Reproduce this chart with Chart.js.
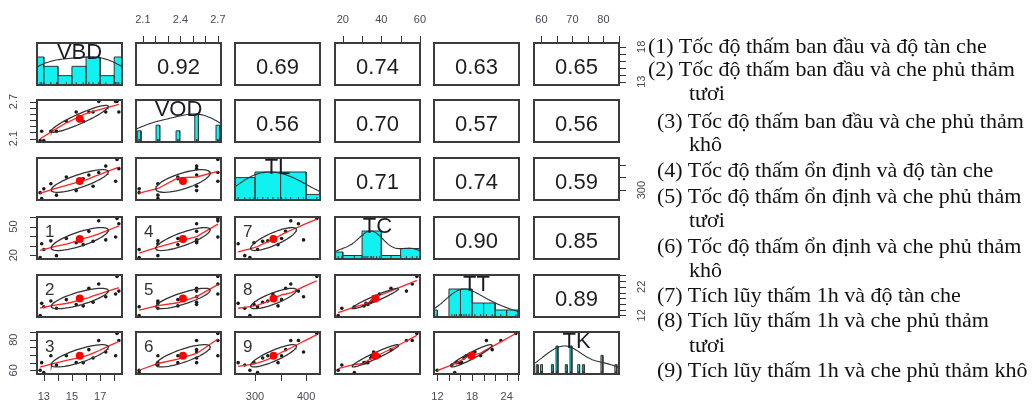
<!DOCTYPE html>
<html>
<head>
<meta charset="utf-8">
<title>Tương quan các chỉ tiêu thấm</title>
<script src="https://cdn.jsdelivr.net/npm/chart.js"></script>
<style>
    body { margin: 0; background: #fff; }
    #stage { position: relative; width: 1032px; height: 407px; overflow: hidden; font-family: 'Liberation Sans', Arial, sans-serif; }
    #stage canvas { position: absolute; }
    .frame { position: absolute; box-sizing: border-box; border: 2px solid #3c3c3c; }
    .txt { position: absolute; white-space: nowrap; color: #1e1e1e; }
    .cor { font-size: 22px; line-height: 22px; text-align: center; }
    .diag { font-size: 22px; line-height: 22px; text-align: center; color: #1c1c28; }
    .tag { font-size: 17px; line-height: 17px; color: #333; }
    .note { position: absolute; white-space: nowrap; font-family: 'Liberation Serif', 'Times New Roman', serif; font-size: 22px; line-height: 22px; color: #111; }
</style>
</head>
<body>
<div id="stage"></div>
<script>
    // 15 ô tiêu chuẩn, 6 chỉ tiêu
    const varNames = ['VBD', 'VOD', 'TL', 'TC', 'TT', 'TK'];
    const VBD = [12.74, 12.85, 13.0, 13.5, 13.9, 14.6, 15.3, 15.8, 16.2, 16.5, 16.9, 17.4, 18.1, 18.2, 18.33];
    const VOD = [2.07, 2.22, 2.07, 2.22, 2.22, 2.38, 2.53, 2.38, 2.53, 2.53, 2.70, 2.53, 2.70, 2.70, 2.53];
    const TL  = [290, 267, 305, 325, 280, 352, 298, 345, 360, 315, 370, 395, 335, 421, 385];
    const TC  = [17.6, 32, 26, 35, 19.5, 37.5, 33, 31, 45, 34.5, 56, 36, 39, 58.4, 53];
    const TT  = [11.95, 16.2, 15, 17, 14.5, 17.5, 15.8, 15.3, 21.5, 16.6, 23, 18.5, 19.5, 25.6, 20.5];
    const TK  = [60, 65, 58.6, 69.5, 63.5, 69.5, 65, 65, 73.5, 68, 79.5, 72, 69.5, 84, 79.5];
    const series = [VBD, VOD, TL, TC, TT, TK];

    // hệ số tương quan in ở tam giác trên
    const corText = [
        [null, '0.92', '0.69', '0.74', '0.63', '0.65'],
        [null, null, '0.56', '0.70', '0.57', '0.56'],
        [null, null, null, '0.71', '0.74', '0.59'],
        [null, null, null, null, '0.90', '0.85'],
        [null, null, null, null, null, '0.89']
    ];
    // số thứ tự cặp (hàng 4-6, cột 1-3)
    const pairTags = [['1', '4', '7'], ['2', '5', '8'], ['3', '6', '9']];

    const histBreaks = [
        [12, 13, 14, 15, 16, 17, 18, 19],
        null,
        [250, 300, 350, 400, 450],
        [10, 20, 30, 40, 50, 60],
        [10, 12, 14, 16, 18, 20, 22, 24, 26],
        null
    ];

    const tickVals = [
        [13, 14, 15, 16, 17, 18],
        [2.1, 2.2, 2.3, 2.4, 2.5, 2.6, 2.7],
        [300, 350, 400],
        [20, 30, 40, 50, 60],
        [12, 14, 16, 18, 20, 22, 24, 26],
        [60, 65, 70, 75, 80, 85]
    ];
    const topLabels = { 1: ['2.1', '2.4', '2.7'], 3: ['20', '40', '60'], 5: ['60', '70', '80'] };
    const bottomLabels = { 0: ['13', '15', '17'], 2: ['300', '400'], 4: ['12', '18', '24'] };
    const leftLabels = { 1: ['2.1', '2.7'], 3: ['20', '50'], 5: ['60', '80'] };
    const rightLabels = { 0: ['13', '18'], 2: ['300'], 4: ['12', '22'] };

    const notes = [
        '(1) Tốc độ thấm ban đầu và độ tàn che',
        '(2) Tốc độ thấm ban đầu và che phủ thảm', 'tươi',
        '(3) Tốc độ thấm ban đầu và che phủ thảm', 'khô',
        '(4) Tốc độ thấm ổn định và độ tàn che',
        '(5) Tốc độ thấm ổn định và che phủ thảm', 'tươi',
        '(6) Tốc độ thấm ổn định và che phủ thảm', 'khô',
        '(7) Tích lũy thấm 1h và độ tàn che',
        '(8) Tích lũy thấm 1h và che phủ thảm', 'tươi',
        '(9) Tích lũy thấm 1h và che phủ thảm khô'
    ];
    const noteBase = [53, 76, 100, 128, 151, 177, 203, 227, 253, 277, 302, 327, 352, 377];
    const noteX = [648, 648, 689, 657, 689, 657, 657, 689, 657, 689, 657, 657, 689, 657];

    // bố cục
    const M = 36, PW = 85, PH = 42, TICK = 7, GAP = 23;
    const colLeft = [37, 136, 235, 335, 434, 534];
    const rowTop = [43, 100, 158, 217, 275, 332];
    const stage = document.getElementById('stage');

    const mean = v => v.reduce((s, x) => s + x, 0) / v.length;
    const sd = v => { const m = mean(v); return Math.sqrt(v.reduce((s, x) => s + (x - m) ** 2, 0) / (v.length - 1)); };
    const cor = (a, b) => { const ma = mean(a), mb = mean(b); let s = 0; a.forEach((x, i) => s += (x - ma) * (b[i] - mb)); return s / ((a.length - 1) * sd(a) * sd(b)); };
    const ranges = series.map(v => { const lo = Math.min(...v), hi = Math.max(...v), p = 0.04 * (hi - lo); return [lo - p, hi + p]; });

    function lowess(x, y, f, iter) {
        const n = x.length;
        const o = x.map((v, i) => i).sort((a, b) => x[a] - x[b] || a - b);
        const xs = o.map(i => x[i]), yv = o.map(i => y[i]);
        const ns = Math.max(Math.min(Math.floor(f * n + 1e-7), n), 2);
        const range = xs[n - 1] - xs[0];
        let rw = new Array(n).fill(1);
        const fit = new Array(n).fill(0);
        for (let it = 0; it <= iter; it++) {
            let nleft = 0, nright = ns - 1;
            for (let i = 0; i < n; i++) {
                while (nright < n - 1 && xs[i] - xs[nleft] > xs[nright + 1] - xs[i]) { nleft++; nright++; }
                const h = Math.max(xs[i] - xs[nleft], xs[nright] - xs[i]);
                const w = [], idx = [];
                let a = 0;
                for (let j = nleft; j < n; j++) {
                    const r = Math.abs(xs[j] - xs[i]);
                    if (r <= 0.999 * h) {
                        let wj = r <= 0.001 * h ? 1 : Math.pow(1 - Math.pow(r / h, 3), 3);
                        if (it > 0) wj *= rw[j];
                        w.push(wj); idx.push(j); a += wj;
                    } else if (xs[j] > xs[i]) break;
                }
                if (a <= 0) { fit[i] = yv[i]; continue; }
                for (let k = 0; k < w.length; k++) w[k] /= a;
                if (h > 0) {
                    let m = 0;
                    idx.forEach((j, k) => m += w[k] * xs[j]);
                    let b = xs[i] - m, c = 0;
                    idx.forEach((j, k) => c += w[k] * (xs[j] - m) ** 2);
                    if (Math.sqrt(c) > 0.001 * range) { b /= c; idx.forEach((j, k) => w[k] *= b * (xs[j] - m) + 1); }
                }
                fit[i] = idx.reduce((s, j, k) => s + w[k] * yv[j], 0);
            }
            if (it === iter) break;
            const res = yv.map((v, i) => v - fit[i]);
            const ar = res.map(Math.abs).sort((p, q) => p - q);
            const sc = ar.reduce((s, v) => s + v, 0) / n;
            const m1 = Math.floor(n / 2);
            const cmad = n % 2 ? 6 * ar[m1] : 3 * (ar[m1] + ar[m1 - 1]);
            if (cmad < 1e-7 * sc) break;
            rw = res.map(r => { r = Math.abs(r); return r <= 0.001 * cmad ? 1 : r <= 0.999 * cmad ? (1 - (r / cmad) ** 2) ** 2 : 0; });
        }
        return xs.map((v, i) => ({ x: v, y: fit[i] }));
    }

    function ellipse(xv, yv) {
        const xm = mean(xv), ym = mean(yv), xs = sd(xv), ys = sd(yv), r = cor(xv, yv);
        const th = (r === 0 ? 1 : Math.sign(r)) / Math.SQRT2;
        const s1 = Math.sqrt(1 + r), s2 = Math.sqrt(1 - r);
        const pts = [];
        for (let k = 0; k <= 51; k++) {
            const t = k * 2 * Math.PI / 51, c = Math.cos(t), s = Math.sin(t);
            pts.push({ x: (c * s1 * th - s * s2 * th) * xs + xm, y: (c * s1 * th + s * s2 * th) * ys + ym });
        }
        return pts;
    }

    function density(v) {
        const n = v.length, s = [...v].sort((a, b) => a - b);
        const q = p => { const h = (n - 1) * p, lo = Math.floor(h); return s[lo] + (h - lo) * (s[Math.min(lo + 1, n - 1)] - s[lo]); };
        const bw = 1.2 * 1.06 * Math.min(sd(v), (q(0.75) - q(0.25)) / 1.34) * Math.pow(n, -0.2);
        const a = s[0] - 3 * bw, b = s[n - 1] + 3 * bw, pts = [];
        for (let k = 0; k <= 160; k++) {
            const x = a + (b - a) * k / 160;
            let d = 0;
            v.forEach(xi => d += Math.exp(-0.5 * ((x - xi) / bw) ** 2));
            pts.push({ x, y: d });
        }
        const mx = Math.max(...pts.map(p => p.y));
        return pts.map(p => ({ x: p.x, y: p.y / mx }));
    }

    function histShape(v, breaks) {
        const pts = [];
        if (breaks) {
            const counts = breaks.slice(1).map((b, k) => v.filter(x => (k === 0 ? x >= breaks[0] : x > breaks[k]) && x <= b).length);
            const mx = Math.max(...counts);
            counts.forEach((c, k) => {
                const h = c / mx;
                pts.push({ x: breaks[k], y: 0 }, { x: breaks[k], y: h }, { x: breaks[k + 1], y: h }, { x: breaks[k + 1], y: 0 });
            });
        } else {
            // ít giá trị riêng: vạch hẹp tại từng giá trị
            const u = [...new Set(v)].sort((a, b) => a - b);
            const counts = u.map(u0 => v.filter(x => x === u0).length);
            const mx = Math.max(...counts);
            let md = Infinity;
            for (let k = 1; k < u.length; k++) md = Math.min(md, u[k] - u[k - 1]);
            const ib = md * (u.length - 1) / 41;
            u.forEach((u0, k) => {
                const h = counts[k] / mx;
                pts.push({ x: u0 - ib, y: 0 }, { x: u0 - ib, y: h }, { x: u0 + ib, y: h }, { x: u0 + ib, y: 0 });
            });
        }
        return pts;
    }

    const edgeAxis = {
        id: 'edgeAxis',
        afterDraw(chart, args, opts) {
            const sides = opts.sides || [];
            if (!sides.length) return;
            const { ctx, chartArea: a } = chart;
            ctx.save();
            ctx.strokeStyle = '#333';
            ctx.lineWidth = 1;
            ctx.fillStyle = '#4a4a58';
            ctx.font = '11px "Liberation Sans", Arial, sans-serif';
            ctx.textAlign = 'center';
            ctx.textBaseline = 'middle';
            sides.forEach(s => {
                const horiz = s.side === 'top' || s.side === 'bottom';
                const sc = horiz ? chart.scales.x : chart.scales.y;
                const edge = a[s.side];
                const dir = (s.side === 'top' || s.side === 'left') ? -1 : 1;
                s.ticks.forEach(v => {
                    const p = Math.round(sc.getPixelForValue(v)) + 0.5;
                    ctx.beginPath();
                    if (horiz) { ctx.moveTo(p, edge); ctx.lineTo(p, edge + dir * TICK); }
                    else { ctx.moveTo(edge, p); ctx.lineTo(edge + dir * TICK, p); }
                    ctx.stroke();
                });
                s.labels.forEach(t => {
                    const p = sc.getPixelForValue(parseFloat(t));
                    if (horiz) {
                        ctx.fillText(t, p, edge + dir * GAP);
                    } else {
                        ctx.save();
                        ctx.translate(edge + dir * GAP, p);
                        ctx.rotate(-Math.PI / 2);
                        ctx.fillText(t, 0, 0);
                        ctx.restore();
                    }
                });
            });
            ctx.restore();
        }
    };

    function addText(cls, text, left, top, width) {
        const d = document.createElement('div');
        d.className = 'txt ' + cls;
        d.textContent = text;
        d.style.left = left + 'px';
        d.style.top = top + 'px';
        if (width) d.style.width = width + 'px';
        stage.appendChild(d);
    }

    function panelDatasets(r, c) {
        if (r === c) {
            return [
                { data: series[c].map(x => ({ x, y: 0 })), showLine: false, pointStyle: 'line', rotation: 90,
                  pointRadius: 3, pointBorderColor: '#333', pointBorderWidth: 1 },
                { data: density(series[c]), borderColor: '#333', borderWidth: 1.1, pointRadius: 0, clip: 0 },
                { data: histShape(series[c], histBreaks[c]), borderColor: '#333', borderWidth: 1, pointRadius: 0,
                  fill: 'origin', backgroundColor: '#10f2f2', clip: 0 }
            ];
        }
        if (r > c) {
            const xv = series[c], yv = series[r];
            return [
                { data: [{ x: mean(xv), y: mean(yv) }], showLine: false, pointRadius: 4,
                  pointBackgroundColor: '#ff0000', pointBorderWidth: 0 },
                { data: ellipse(xv, yv), borderColor: '#333', borderWidth: 1.3, pointRadius: 0, clip: 0 },
                { data: lowess(xv, yv, 2 / 3, 3), borderColor: '#ff2424', borderWidth: 1.3, pointRadius: 0, clip: 0 },
                { data: xv.map((x, i) => ({ x, y: yv[i] })), showLine: false, pointRadius: 1.8,
                  pointBackgroundColor: '#1a1a1a', pointBorderWidth: 0 }
            ];
        }
        return [];
    }

    function panelSides(r, c) {
        const sides = [];
        if (r === 0 && topLabels[c]) sides.push({ side: 'top', ticks: tickVals[c], labels: topLabels[c] });
        if (r === 5 && bottomLabels[c]) sides.push({ side: 'bottom', ticks: tickVals[c], labels: bottomLabels[c] });
        if (c === 0 && leftLabels[r]) sides.push({ side: 'left', ticks: tickVals[r], labels: leftLabels[r] });
        if (c === 5 && rightLabels[r]) sides.push({ side: 'right', ticks: tickVals[r], labels: rightLabels[r] });
        return sides;
    }

    for (let r = 0; r < 6; r++) {
        for (let c = 0; c < 6; c++) {
            const L = colLeft[c], T = rowTop[r];
            const cv = document.createElement('canvas');
            cv.width = PW + 2 * M;
            cv.height = PH + 2 * M;
            cv.style.left = (L - M) + 'px';
            cv.style.top = (T - M) + 'px';
            cv.style.width = (PW + 2 * M) + 'px';
            cv.style.height = (PH + 2 * M) + 'px';
            stage.appendChild(cv);

            new Chart(cv, {
                type: 'line',
                data: { datasets: panelDatasets(r, c) },
                options: {
                    responsive: false,
                    animation: false,
                    devicePixelRatio: 1,
                    events: [],
                    layout: { padding: M },
                    elements: { line: { tension: 0 }, point: { radius: 0 } },
                    plugins: {
                        legend: { display: false },
                        tooltip: { enabled: false },
                        edgeAxis: { sides: panelSides(r, c) }
                    },
                    scales: {
                        x: { type: 'linear', display: false, min: ranges[c][0], max: ranges[c][1] },
                        y: { type: 'linear', display: false,
                             min: r === c ? 0 : ranges[r][0], max: r === c ? 1.5 : ranges[r][1] }
                    }
                },
                plugins: [edgeAxis]
            });

            const fr = document.createElement('div');
            fr.className = 'frame';
            fr.style.left = (L - 1) + 'px';
            fr.style.top = (T - 1) + 'px';
            fr.style.width = (PW + 2) + 'px';
            fr.style.height = (PH + 2) + 'px';
            stage.appendChild(fr);

            if (r < c) addText('cor', corText[r][c], L, T + 13, PW);
            if (r === c) addText('diag', varNames[c], L, T - 2, PW);
            if (r >= 3 && c <= 2) addText('tag', pairTags[r - 3][c], L + 8, T + 6);
        }
    }

    notes.forEach((t, i) => {
        const d = document.createElement('div');
        d.className = 'note';
        d.textContent = t;
        d.style.left = noteX[i] + 'px';
        d.style.top = (noteBase[i] - 18.4) + 'px';
        stage.appendChild(d);
    });
</script>
</body>
</html>
